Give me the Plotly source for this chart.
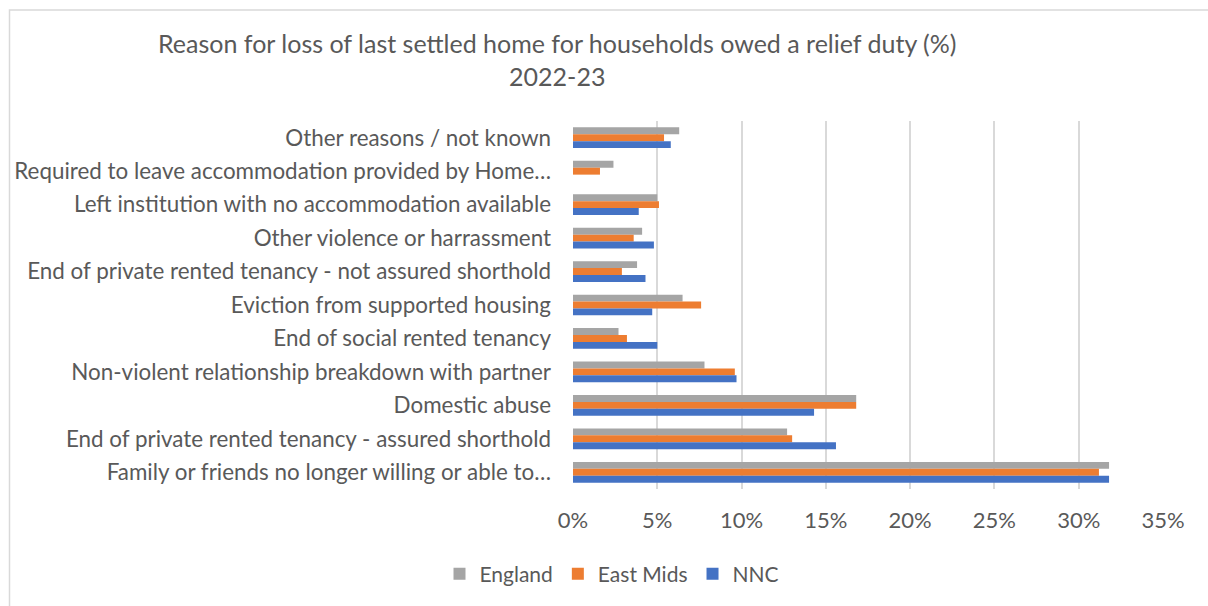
import plotly.graph_objects as go

# Reasons, listed top to bottom as they appear on the chart
reasons = [
    "Other reasons / not known",
    "Required to leave accommodation provided by Home…",
    "Left institution with no accommodation available",
    "Other violence or harrassment",
    "End of private rented tenancy - not assured shorthold",
    "Eviction from supported housing",
    "End of social rented tenancy",
    "Non-violent relationship breakdown with partner",
    "Domestic abuse",
    "End of private rented tenancy - assured shorthold",
    "Family or friends no longer willing or able to…",
]

# Share of households owed a relief duty (%), 2022-23
england = [6.3, 2.4, 5.0, 4.1, 3.8, 6.5, 2.7, 7.8, 16.8, 12.7, 31.8]
east_mids = [5.4, 1.6, 5.1, 3.6, 2.9, 7.6, 3.2, 9.6, 16.8, 13.0, 31.2]
nnc = [5.8, None, 3.9, 4.8, 4.3, 4.7, 5.0, 9.7, 14.3, 15.6, 31.8]

series_names = ["England", "East Mids", "NNC"]
series_values = [england, east_mids, nnc]
series_colors = ["#A5A5A5", "#ED7D31", "#4472C4"]

x_ticks = [0, 5, 10, 15, 20, 25, 30, 35]
x_tick_labels = ["0%", "5%", "10%", "15%", "20%", "25%", "30%", "35%"]

FONT = "Lato"
TEXT = "#595959"
W, H = 1208, 606

fig = go.Figure()
for name, vals, col in zip(series_names, series_values, series_colors):
    fig.add_trace(go.Bar(
        y=reasons, x=vals, name=name, orientation="h",
        marker=dict(color=col, line=dict(width=0)),
    ))

fig.update_layout(
    width=W, height=H,
    margin=dict(l=0, r=0, t=0, b=0, autoexpand=False),
    paper_bgcolor="white", plot_bgcolor="white",
    barmode="group", bargap=0.38, bargroupgap=0,
    font=dict(family=FONT, color=TEXT, size=21),
    showlegend=True,
    legend=dict(
        orientation="h", x=612 / W, xanchor="center",
        y=(H - 574) / H, yanchor="middle",
        font=dict(size=21, color=TEXT, family=FONT),
        traceorder="normal", itemwidth=30,
        bgcolor="rgba(0,0,0,0)",
    ),
    xaxis=dict(
        domain=[573 / W, 1163 / W], range=[0, 35],
        tickvals=x_ticks, ticktext=x_tick_labels,
        showgrid=True, gridcolor="#D9D9D9", gridwidth=1.5,
        zeroline=False, showline=False, ticks="",
        automargin=False, ticklabelstandoff=16,
        tickfont=dict(size=22, color=TEXT, family=FONT),
    ),
    yaxis=dict(
        domain=[(H - 489) / H, (H - 121) / H],
        autorange="reversed", type="category",
        showgrid=False, zeroline=False, showline=False, ticks="",
        automargin=False, ticklabelstandoff=21,
        tickfont=dict(size=22.4, color=TEXT, family=FONT),
    ),
    annotations=[dict(
        text="Reason for loss of last settled home for households owed a relief duty (%)<br>2022-23",
        x=557 / W, y=(H - 59.5) / H, xref="paper", yref="paper",
        xanchor="center", yanchor="middle", showarrow=False,
        font=dict(size=25, color=TEXT, family=FONT), align="center",
    )],
    shapes=[
        # outer chart frame (extends past the bottom and right edges)
        dict(type="rect", xref="paper", yref="paper",
             x0=9.5 / W, x1=1.05, y0=-0.05, y1=(H - 10) / H,
             line=dict(color="#D9D9D9", width=1.5), fillcolor="rgba(0,0,0,0)",
             layer="below"),
    ],
)

fig.write_html("out.html")
